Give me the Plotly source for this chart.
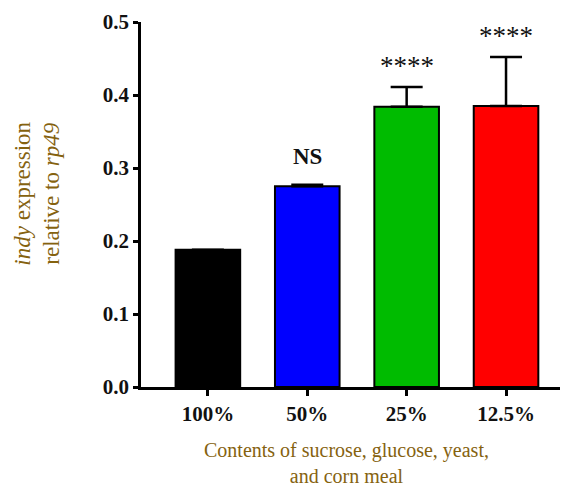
import plotly.graph_objects as go

categories = ["100%", "50%", "25%", "12.5%"]
values = [0.188, 0.275, 0.384, 0.385]
err_plus = [0.0, 0.002, 0.027, 0.067]
colors = ["#000000", "#0000FF", "#00BB00", "#FF0000"]
sig_labels = ["", "NS", "****", "****"]

serif = "Georgia, 'Liberation Serif', 'DejaVu Serif', serif"
title_color = "#85620F"

fig = go.Figure()
fig.add_trace(go.Bar(
    x=list(range(len(categories))), y=values,
    width=0.65,
    marker=dict(color=colors, line=dict(color="black", width=2)),
    error_y=dict(type="data", symmetric=False, array=err_plus,
                 arrayminus=[0] * len(values), color="black",
                 thickness=2.5, width=16),
    showlegend=False,
))

for i, (lab, v, e) in enumerate(zip(sig_labels, values, err_plus)):
    if not lab:
        continue
    fig.add_annotation(
        x=i, y=v + e, text=f"<b>{lab}</b>" if lab == "NS" else lab,
        showarrow=False, yanchor="bottom",
        yshift=14 if lab == "NS" else 4,
        font=dict(family=serif, size=23 if lab == "NS" else 27, color="#111111"),
    )

fig.add_annotation(
    xref="paper", yref="paper", x=-0.248, xanchor="center", y=0.53, yanchor="middle",
    text="<i>indy</i> expression<br>relative to <i>rp49</i>",
    textangle=-90, showarrow=False, align="center",
    font=dict(family=serif, size=23, color=title_color),
)
fig.add_annotation(
    xref="paper", yref="paper", x=0.49, xanchor="center", y=-0.208, yanchor="middle",
    text="Contents of sucrose, glucose, yeast,<br>and corn meal",
    showarrow=False, align="center",
    font=dict(family=serif, size=20, color=title_color),
)

fig.update_layout(
    width=562, height=490,
    margin=dict(l=141, r=2, t=22, b=103),
    plot_bgcolor="white", paper_bgcolor="white",
    xaxis=dict(
        range=[-0.673, 3.543], tickvals=list(range(len(categories))),
        ticktext=[f"<b>{c}</b>" for c in categories],
        showline=True, linecolor="black", linewidth=2.5,
        ticks="outside", ticklen=6, tickwidth=2.5, tickcolor="black",
        tickfont=dict(family=serif, size=21, color="#111111"),
        showgrid=False, zeroline=False,
    ),
    yaxis=dict(
        range=[0, 0.5], tickvals=[0, 0.1, 0.2, 0.3, 0.4, 0.5],
        ticktext=["<b>0.0</b>", "<b>0.1</b>", "<b>0.2</b>", "<b>0.3</b>", "<b>0.4</b>", "<b>0.5</b>"],
        showline=True, linecolor="black", linewidth=2.5,
        ticks="outside", ticklen=5, tickwidth=2.5, tickcolor="black",
        tickfont=dict(family=serif, size=21, color="#111111"),
        showgrid=False, zeroline=False,
    ),
)

fig.write_html("out.html")
